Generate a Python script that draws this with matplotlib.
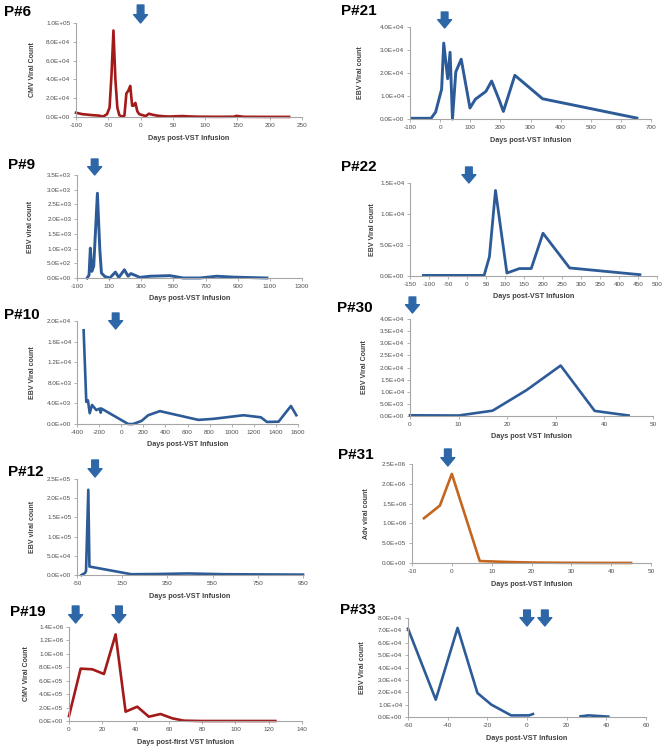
import matplotlib
matplotlib.use('Agg')
import matplotlib.pyplot as plt
import numpy as np
from matplotlib.ticker import FuncFormatter

plt.rcParams['font.family'] = 'Liberation Sans'
plt.rcParams['axes.unicode_minus'] = False

BLUE = '#2D5B98'
RED = '#A31A1A'
ORANGE = '#C4661F'
ARROW = '#2E67A8'

# ---- data ----
p6_days = [-100, -90, -75, -65, -58, -52, -48, -45, -42, -39, -36, -33, -29, -25, -22, -19, -16,
           -13, -11, -8, -5, -2, 3, 8, 13, 18, 25, 35, 45, 55, 65, 75, 90, 120, 145, 148, 160, 200, 230]
p6_cmv = [4500, 3000, 2000, 1500, 500, 3000, 10000, 45000, 92000, 40000, 10000, 2000, 500, 1500,
          25000, 28000, 33000, 12000, 12000, 15000, 6000, 3000, 2000, 1000, 3500, 2500, 1500, 800,
          500, 800, 1000, 600, 300, 200, 300, 1200, 200, 100, 100]

p21_days = [-95, -30, -15, 5, 12, 25, 33, 41, 52, 70, 99, 117, 152, 171, 196, 210, 248, 340, 653]
p21_ebv = [300, 300, 3000, 13000, 33000, 17500, 29000, 0, 20500, 26000, 4800, 8600, 12000,
           16500, 8300, 3300, 19000, 8800, 400]

p9_days = [-37, -25, -17, -8, 4, 27, 42, 52, 73, 104, 139, 160, 195, 218, 235, 266, 291, 353,
           478, 561, 665, 769, 873, 1082]
p9_ebv = [0, 100, 1015, 225, 400, 2880, 960, 170, 50, 0, 200, 20, 280, 60, 150, 80, 20, 60, 80,
          0, 0, 60, 30, 0]

p22_days = [-115, 45, 59, 75, 105, 138, 169, 200, 270, 455]
p22_ebv = [100, 100, 3100, 13800, 480, 1200, 1200, 6900, 1300, 215]

p10_days = [-340, -316, -301, -285, -264, -225, -194, -185, -179, 63, 108, 184, 244, 350, 698,
            834, 1107, 1264, 1319, 1424, 1536, 1585]
p10_ebv = [18200, 4300, 4600, 2100, 3700, 2700, 3000, 2200, 3000, 0, 0, 600, 1700, 2500, 800,
           1000, 1700, 1300, 400, 450, 3500, 1700]

p30_days = [0, 10, 17, 24, 31, 38, 45]
p30_ebv = [300, 200, 2200, 10700, 20800, 2100, 200]

p12_days = [-30, -15, -10, 0, 5, 190, 300, 440, 600, 950]
p12_ebv = [0, 5000, 10000, 222000, 22000, 2000, 2500, 4000, 2000, 1000]

p31_days = [-7, -3, 0, 7, 14, 21, 28, 35, 45]
p31_adv = [1.13e6, 1.45e6, 2.25e6, 5e4, 2.5e4, 1e4, 5e3, 2e3, 1e3]

p19_days = [0, 7, 14, 21, 28, 34, 41, 48, 55, 62, 69, 79, 90, 100, 110, 124]
p19_cmv = [7.4e4, 7.8e5, 7.7e5, 7.0e5, 1.29e6, 1.39e5, 2.13e5, 6.4e4, 1.04e5, 4e4, 5e3, 0, 0, 0, 0, 0]

p33_days = [-60, -46, -35, -25, -18, -8, 1, 3, 15, 27, 31, 41]
p33_ebv = [71400, 14000, 72000, 19400, 10000, 1300, 1300, 2400, np.nan, 500, 1300, 300]

# infusion days (arrows)
p6_inf = [0]
p21_inf = [15]
p9_inf = [10]
p22_inf = [5]
p10_inf = [-50]
p30_inf = [0.5]
p12_inf = [30]
p31_inf = [-1]
p19_inf = [4, 30]
p33_inf = [0, 9]

W, H = 667, 750
fig = plt.figure(figsize=(W / 100, H / 100), dpi=100)

sci = FuncFormatter(lambda v, p: f'{v:.1E}')


def panel(box, title, title_xy, x, y, color, xticks, yticks, xlabel, ylabel, ylab_off,
          infusions, arrow_px, lw=1.8):
    l, t, r, b = box
    ax = fig.add_axes([l / W, 1 - b / H, (r - l) / W, (b - t) / H])
    ax.plot(x, y, color=color, lw=lw, clip_on=False, solid_joinstyle='round')
    ax.set_xlim(xticks[0], xticks[-1])
    ax.set_ylim(0, yticks[-1])
    ax.set_xticks(xticks)
    ax.set_yticks(yticks)
    ax.yaxis.set_major_formatter(sci)
    for s in ['top', 'right']:
        ax.spines[s].set_visible(False)
    for s in ['left', 'bottom']:
        ax.spines[s].set_color('#A6A6A6')
        ax.spines[s].set_linewidth(0.8)
    ax.tick_params(labelsize=4.6, colors='#A6A6A6', labelcolor='#4D4D4D',
                   length=2.5, width=0.6, pad=1.6)
    ax.set_xlabel(xlabel, fontsize=5.2, fontweight='bold', color='#404040')
    ax.set_ylabel(ylabel, fontsize=5.0, fontweight='bold', color='#404040')
    ax.xaxis.set_label_coords(0.5, -21 / (b - t))
    ax.xaxis.label.set_va('center')
    ax.yaxis.set_label_coords(-ylab_off / (r - l), 0.5)
    ax.yaxis.label.set_va('center')
    # infusion arrows
    top_px, tip_px = arrow_px
    for d in infusions:
        ax.annotate('', xy=(d, (b - tip_px) / (b - t)), xycoords=('data', 'axes fraction'),
                    xytext=(d, (b - top_px) / (b - t)), textcoords=('data', 'axes fraction'),
                    arrowprops=dict(arrowstyle='simple,head_length=0.6,head_width=1.0,tail_width=0.48',
                                    color=ARROW, shrinkA=0, shrinkB=0, mutation_scale=10),
                    annotation_clip=False)
    fig.text(title_xy[0] / W, 1 - title_xy[1] / H, title, fontsize=11, fontweight='bold',
             ha='left', va='center')
    return ax


panel((76, 23, 302, 117), 'P#6', (4, 12), p6_days, p6_cmv, RED,
      list(range(-100, 251, 50)), [0, 2e4, 4e4, 6e4, 8e4, 1e5],
      'Days post-VST Infusion', 'CMV Viral Count', 44, p6_inf, (5, 23), lw=1.9)

panel((410, 27, 651, 119), 'P#21', (341, 11), p21_days, p21_ebv, BLUE,
      list(range(-100, 701, 100)), [0, 1e4, 2e4, 3e4, 4e4],
      'Days post-VST infusion', 'EBV Viral count', 49, p21_inf, (12, 28), lw=2.1)

panel((77, 175, 302, 278), 'P#9', (8, 165), p9_days, p9_ebv, BLUE,
      list(range(-100, 1301, 200)), list(range(0, 3501, 500)),
      'Days post-VST Infusion', 'EBV viral count', 47, p9_inf, (159, 175), lw=2.1)

panel((410, 183, 657, 276), 'P#22', (341, 167), p22_days, p22_ebv, BLUE,
      list(range(-150, 501, 50)), [0, 5e3, 1e4, 1.5e4],
      'Days post-VST Infusion', 'EBV Viral count', 37, p22_inf, (167, 183), lw=2.0)

panel((77, 321, 298, 424), 'P#10', (4, 315), p10_days, p10_ebv, BLUE,
      list(range(-400, 1601, 200)), [0, 4e3, 8e3, 1.2e4, 1.6e4, 2e4],
      'Days post-VST Infusion', 'EBV Viral count', 45, p10_inf, (313, 329), lw=1.9)

panel((410, 319, 653, 416), 'P#30', (337, 308), p30_days, p30_ebv, BLUE,
      list(range(0, 51, 10)), [i * 5e3 for i in range(9)],
      'Days post VST Infusion', 'EBV Viral Count', 45, p30_inf, (297, 313), lw=1.9)

panel((77, 479, 303, 575), 'P#12', (8, 472), p12_days, p12_ebv, BLUE,
      list(range(-50, 951, 200)), [0, 5e4, 1e5, 1.5e5, 2e5, 2.5e5],
      'Days post-VST Infusion', 'EBV viral count', 45, p12_inf, (460, 477), lw=1.9)

panel((412, 464, 651, 563), 'P#31', (338, 455), p31_days, p31_adv, ORANGE,
      list(range(-10, 51, 10)), [0, 5e5, 1e6, 1.5e6, 2e6, 2.5e6],
      'Days post-VST Infusion', 'Adv viral count', 46, p31_inf, (449, 466), lw=1.9)

panel((69, 627, 302, 721), 'P#19', (10, 612), p19_days, p19_cmv, RED,
      list(range(0, 141, 20)), [i * 2e5 for i in range(8)],
      'Days post-first VST Infusion', 'CMV Viral Count', 42, p19_inf, (606, 623), lw=1.9)

panel((408, 618, 646, 717), 'P#33', (340, 610), p33_days, p33_ebv, BLUE,
      list(range(-60, 61, 20)), [i * 1e4 for i in range(9)],
      'Days post-VST Infusion', 'EBV Viral count', 45, p33_inf, (610, 626), lw=1.9)

fig.savefig('out.png', dpi=100, facecolor='white')
